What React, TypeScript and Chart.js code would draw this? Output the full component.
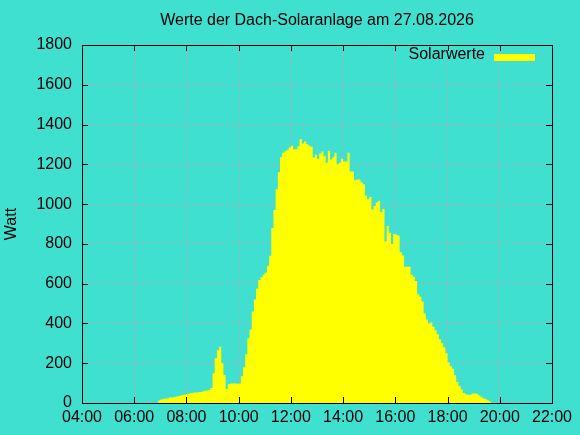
import { useEffect, useRef } from "react";
import { Chart, registerables } from "chart.js";

Chart.register(...registerables);

const TITLE = "Werte der Dach-Solaranlage am 27.08.2026";
const Y_LABEL = "Watt";
const SERIES_LABEL = "Solarwerte";

const times: string[] = [
  "06:55", "07:00", "07:05", "07:10", "07:15", "07:20", "07:25", "07:30", "07:35", "07:40", "07:45", "07:50", "07:55",
  "08:00", "08:05", "08:10", "08:15", "08:20", "08:25", "08:30", "08:35", "08:40", "08:45", "08:50", "08:55",
  "09:00", "09:05", "09:10", "09:15", "09:20", "09:25", "09:30", "09:35", "09:40", "09:45", "09:50", "09:55",
  "10:00", "10:05", "10:10", "10:15", "10:20", "10:25", "10:30", "10:35", "10:40", "10:45", "10:50", "10:55",
  "11:00", "11:05", "11:10", "11:15", "11:20", "11:25", "11:30", "11:35", "11:40", "11:45", "11:50", "11:55",
  "12:00", "12:05", "12:10", "12:15", "12:20", "12:25", "12:30", "12:35", "12:40", "12:45", "12:50", "12:55",
  "13:00", "13:05", "13:10", "13:15", "13:20", "13:25", "13:30", "13:35", "13:40", "13:45", "13:50", "13:55",
  "14:00", "14:05", "14:10", "14:15", "14:20", "14:25", "14:30", "14:35", "14:40", "14:45", "14:50", "14:55",
  "15:00", "15:05", "15:10", "15:15", "15:20", "15:25", "15:30", "15:35", "15:40", "15:45", "15:50", "15:55",
  "16:00", "16:05", "16:10", "16:15", "16:20", "16:25", "16:30", "16:35", "16:40", "16:45", "16:50", "16:55",
  "17:00", "17:05", "17:10", "17:15", "17:20", "17:25", "17:30", "17:35", "17:40", "17:45", "17:50", "17:55",
  "18:00", "18:05", "18:10", "18:15", "18:20", "18:25", "18:30", "18:35", "18:40", "18:45", "18:50", "18:55",
  "19:00", "19:05", "19:10", "19:15", "19:20", "19:25", "19:30", "19:35", "19:40", "19:45",
];

const watts: number[] = [
  13, 13, 18, 20, 23, 23, 28, 28, 30, 33, 35, 38, 40,
  43, 45, 48, 50, 53, 53, 54, 55, 58, 62, 63, 65,
  75, 150, 225, 265, 283, 200, 140, 70, 95, 98, 98, 98,
  97, 98, 135, 180, 245, 325, 370, 460, 520, 575, 618, 632,
  645, 655, 690, 740, 880, 970, 1075, 1160, 1235, 1258, 1266, 1273,
  1285, 1293, 1276, 1276, 1291, 1328, 1305, 1315, 1301, 1295, 1288, 1234,
  1248, 1228, 1254, 1265, 1241, 1208, 1268, 1224, 1234, 1258, 1201, 1208,
  1228, 1214, 1214, 1258, 1164, 1164, 1120, 1124, 1124, 1110, 1100, 1043,
  1025, 1036, 973, 990, 1008, 1017, 959, 976, 812, 890, 856, 800,
  850, 846, 842, 758, 742, 685, 685, 685, 645, 635, 614, 547,
  534, 510, 450, 420, 400, 405, 383, 366, 346, 320, 300, 280,
  250, 205, 185, 172, 140, 105, 85, 68, 50, 44, 41, 42,
  46, 48, 46, 38, 31, 24, 20, 14, 8, 0,
];

const X_MIN_HOUR = 4;
const X_MAX_HOUR = 22;
const X_STEP_HOURS = 2;
const Y_MIN = 0;
const Y_MAX = 1800;
const Y_STEP = 200;

const FONT = '"Liberation Sans", Arial, sans-serif';
const BG = "#40e0d0";
const FILL = "#ffff00";
const GRID = "#c8a0b0";

const toHours = (s: string) => {
  const [h, m] = s.split(":").map(Number);
  return h + m / 60;
};

const framePlugin = {
  id: "gnuplotFrame",
  afterDatasetsDraw(chart: any) {
    const { ctx, chartArea: a, scales } = chart;
    const xs = scales.x;
    const ys = scales.y;
    ctx.save();
    ctx.strokeStyle = "#000";
    ctx.lineWidth = 1;
    ctx.beginPath();
    xs.ticks.forEach((t: any) => {
      const px = Math.round(xs.getPixelForValue(t.value)) + 0.5;
      ctx.moveTo(px, a.bottom);
      ctx.lineTo(px, a.bottom - 6);
      ctx.moveTo(px, a.top);
      ctx.lineTo(px, a.top + 6);
    });
    ys.ticks.forEach((t: any) => {
      const py = Math.round(ys.getPixelForValue(t.value)) + 0.5;
      ctx.moveTo(a.left, py);
      ctx.lineTo(a.left + 6, py);
      ctx.moveTo(a.right, py);
      ctx.lineTo(a.right - 6, py);
    });
    ctx.stroke();
    ctx.strokeRect(
      Math.round(a.left) + 0.5,
      Math.round(a.top) + 0.5,
      Math.round(a.right - a.left),
      Math.round(a.bottom - a.top)
    );

    // title
    ctx.font = `16px ${FONT}`;
    ctx.fillStyle = "#000";
    ctx.textAlign = "center";
    ctx.textBaseline = "middle";
    ctx.fillText(TITLE, (a.left + a.right) / 2, a.top - 24);

    // legend
    ctx.textAlign = "right";
    ctx.fillText(chart.data.datasets[0].label, a.right - 67, a.top + 10);
    ctx.fillStyle = FILL;
    ctx.fillRect(a.right - 58, a.top + 9, 41, 7);
    ctx.restore();
  },
};

export default function App() {
  const canvasRef = useRef<HTMLCanvasElement | null>(null);

  useEffect(() => {
    document.body.style.margin = "0";
    const canvas = canvasRef.current;
    if (!canvas) return;
    const points = times.map((t, i) => ({ x: toHours(t), y: watts[i] }));
    const chart = new Chart(canvas, {
      type: "line",
      data: {
        datasets: [
          {
            label: SERIES_LABEL,
            data: points,
            stepped: "after",
            fill: "origin",
            backgroundColor: FILL,
            borderColor: FILL,
            borderWidth: 0,
            pointRadius: 0,
          },
        ],
      },
      options: {
        animation: false,
        responsive: true,
        maintainAspectRatio: false,
        layout: { padding: { top: 45, right: 28, left: 0, bottom: 0 } },
        plugins: {
          legend: { display: false },
          title: { display: false },
          tooltip: { enabled: false },
        },
        scales: {
          x: {
            type: "linear",
            min: X_MIN_HOUR,
            max: X_MAX_HOUR,
            afterFit: (scale: any) => {
              scale.height = 32;
            },
            ticks: {
              stepSize: X_STEP_HOURS,
              autoSkip: false,
              maxRotation: 0,
              padding: 5,
              color: "#000",
              font: { family: FONT, size: 16 },
              callback: (v: any) => `${String(v).padStart(2, "0")}:00`,
            },
            grid: { color: GRID, lineWidth: 1, drawTicks: false },
            border: { display: false, dash: [2, 3] },
          },
          y: {
            min: Y_MIN,
            max: Y_MAX,
            afterFit: (scale: any) => {
              scale.width = 82;
            },
            ticks: {
              stepSize: Y_STEP,
              padding: 10,
              color: "#000",
              font: { family: FONT, size: 16 },
              callback: (v: any) => String(v),
            },
            title: {
              display: true,
              text: Y_LABEL,
              color: "#000",
              font: { family: FONT, size: 16 },
              padding: { top: 2, bottom: 0 },
            },
            grid: { color: GRID, lineWidth: 1, drawTicks: false },
            border: { display: false, dash: [2, 3] },
          },
        },
      },
      plugins: [framePlugin],
    });
    return () => chart.destroy();
  }, []);

  return (
    <div
      style={{
        position: "fixed",
        left: 0,
        top: 0,
        width: 580,
        height: 435,
        background: BG,
      }}
    >
      <canvas ref={canvasRef} />
    </div>
  );
}
